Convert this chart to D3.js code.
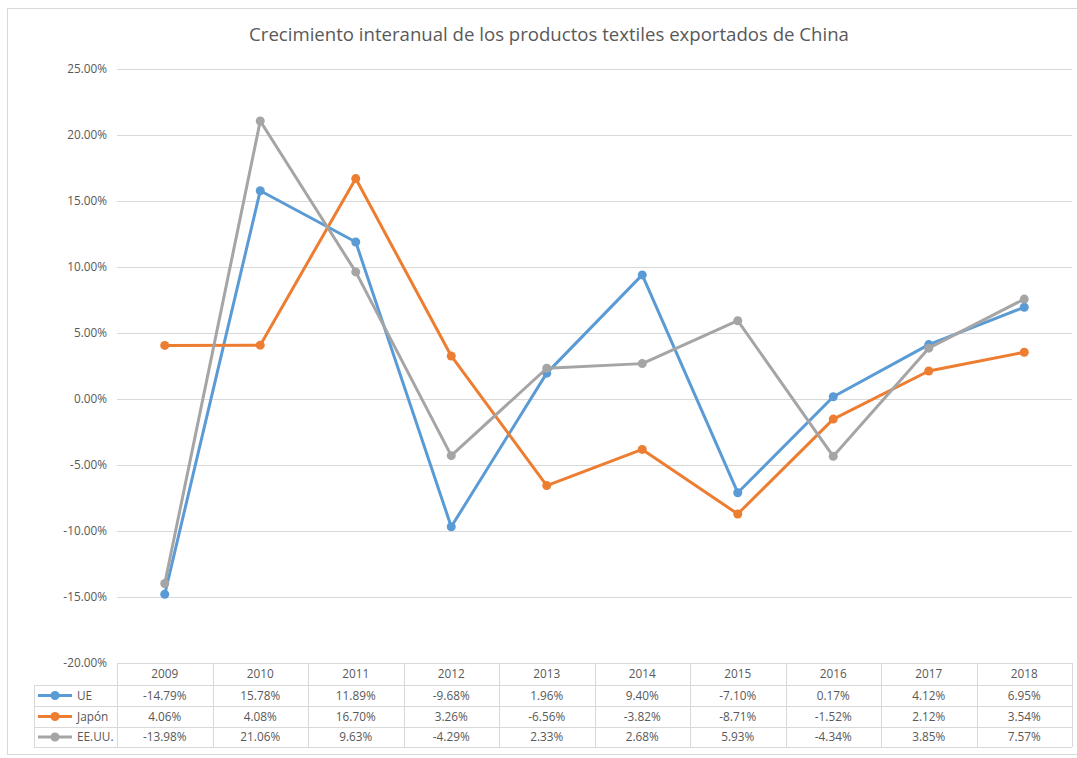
<!DOCTYPE html>
<html><head><meta charset="utf-8">
<script src="https://cdn.jsdelivr.net/npm/d3@7"></script>
<style>body{margin:0;background:#fff;} text{font-family:"Open Sans","Noto Sans",sans-serif;}</style>
</head><body><svg id="c" width="1077" height="758"></svg>
<script>
const years = ["2009","2010","2011","2012","2013","2014","2015","2016","2017","2018"];
const ue = [-14.79,15.78,11.89,-9.68,1.96,9.40,-7.10,0.17,4.12,6.95];
const japon = [4.06,4.08,16.70,3.26,-6.56,-3.82,-8.71,-1.52,2.12,3.54];
const eeuu = [-13.98,21.06,9.63,-4.29,2.33,2.68,5.93,-4.34,3.85,7.57];
const seriesNames = ["UE","Japón","EE.UU."];
const seriesColors = ["#5B9BD5","#ED7D31","#A5A5A5"];
const yTicks = [-20,-15,-10,-5,0,5,10,15,20,25];
const title = "Crecimiento interanual de los productos textiles exportados de China";

(function(){
const series = [ue, japon, eeuu];
const fmt = d3.formatLocale({decimal:".",thousands:",",grouping:[3],currency:["",""],minus:"-"}).format(".2f");
const pct = v => fmt(v)+"%";
const svg = d3.select("#c");
svg.append("rect").attr("x",7.5).attr("y",8.5).attr("width",1080).attr("height",746)
  .attr("fill","#fff").attr("stroke","#d9d9d9");

const pL=117, pR=1072, pT=69, pB=663;
const x = d3.scaleBand().domain(years).range([pL,pR]);
const y = d3.scaleLinear().domain([-20,25]).range([pB,pT]);

svg.append("text").attr("x",549).attr("y",41).attr("text-anchor","middle")
  .attr("font-size",18.6).attr("fill","#595959").text(title);

const yAxis = d3.axisLeft(y).tickValues(yTicks).tickSize(-(pR-pL)).tickFormat(pct);
const ga = svg.append("g").attr("transform",`translate(${pL},0)`).call(yAxis);
ga.select(".domain").remove();
ga.selectAll(".tick line").attr("stroke","#d9d9d9");
ga.selectAll(".tick text").attr("x",-10).attr("fill","#595959").attr("font-size",11.8)
  .style("font-family","'Open Sans','Noto Sans',sans-serif");

const line = d3.line().x((d,i)=>x(years[i])+x.bandwidth()/2).y(d=>y(d));
series.forEach((s,k)=>{
  svg.append("path").datum(s).attr("d",line).attr("fill","none")
    .attr("stroke",seriesColors[k]).attr("stroke-width",3).attr("stroke-linejoin","round");
  svg.selectAll(null).data(s).enter().append("circle")
    .attr("cx",(d,i)=>x(years[i])+x.bandwidth()/2).attr("cy",d=>y(d)).attr("r",4.5)
    .attr("fill",seriesColors[k]);
});

const rowTop=[663,685,706,727], rowBot=747, legLeft=34;
const tg = svg.append("g");
const grid="#d9d9d9";
tg.append("line").attr("x1",pL).attr("x2",pR).attr("y1",rowTop[0]+0.5).attr("y2",rowTop[0]+0.5).attr("stroke",grid);
for(let r=1;r<rowTop.length;r++){
  tg.append("line").attr("x1",legLeft).attr("x2",pR).attr("y1",rowTop[r]+0.5).attr("y2",rowTop[r]+0.5).attr("stroke",grid);
}
tg.append("line").attr("x1",legLeft).attr("x2",pR).attr("y1",rowBot+0.5).attr("y2",rowBot+0.5).attr("stroke",grid);
tg.append("line").attr("x1",legLeft+0.5).attr("x2",legLeft+0.5).attr("y1",rowTop[1]).attr("y2",rowBot).attr("stroke",grid);
years.forEach(yr=>{
  const xx=Math.round(x(yr))+0.5;
  tg.append("line").attr("x1",xx).attr("x2",xx).attr("y1",rowTop[0]).attr("y2",rowBot).attr("stroke",grid);
});
tg.append("line").attr("x1",pR+0.5).attr("x2",pR+0.5).attr("y1",rowTop[0]).attr("y2",rowBot).attr("stroke",grid);

const cy = (r)=> (r<3 ? (rowTop[r]+rowTop[r+1])/2 : (rowTop[3]+rowBot)/2);
years.forEach(yr=>{
  tg.append("text").attr("x",x(yr)+x.bandwidth()/2).attr("y",cy(0)).attr("dy","0.35em")
    .attr("text-anchor","middle").attr("font-size",11.8).attr("fill","#595959").text(yr);
});
series.forEach((s,k)=>{
  const yy=cy(k+1);
  tg.append("line").attr("x1",38).attr("x2",72).attr("y1",yy).attr("y2",yy)
    .attr("stroke",seriesColors[k]).attr("stroke-width",3);
  tg.append("circle").attr("cx",55).attr("cy",yy).attr("r",4.5).attr("fill",seriesColors[k]);
  tg.append("text").attr("x",77).attr("y",yy).attr("dy","0.35em").attr("font-size",11.8)
    .attr("fill","#595959").text(seriesNames[k]);
  s.forEach((v,i)=>{
    tg.append("text").attr("x",x(years[i])+x.bandwidth()/2).attr("y",yy).attr("dy","0.35em")
      .attr("text-anchor","middle").attr("font-size",11.8).attr("fill","#595959")
      .text(pct(v));
  });
});
})();
</script></body></html>
